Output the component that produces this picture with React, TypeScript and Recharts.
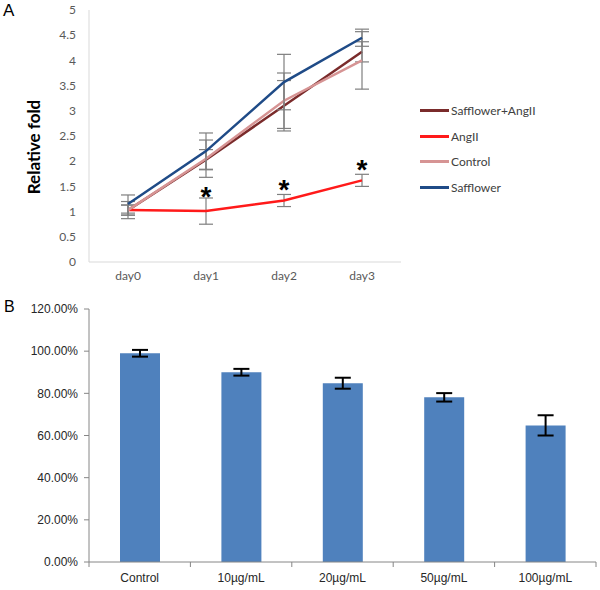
import { LineChart, Line, BarChart, Bar, XAxis, YAxis, ErrorBar } from 'recharts'

// panel A: relative fold over days
const days = ['day0', 'day1', 'day2', 'day3']
const saffAngII = [1.03, 2.03, 3.1, 4.17]
const saffAngIIErr = [0.1, 0.2, 0.5, 0.2]
const angII = [1.03, 1.01, 1.22, 1.62]
const angIIErr = [0.1, 0.26, 0.12, 0.12]
const control = [1.03, 2.05, 3.2, 4.0]
const controlErr = [0.17, 0.37, 0.55, 0.57]
const safflower = [1.15, 2.2, 3.57, 4.45]
const safflowerErr = [0.18, 0.36, 0.55, 0.17]
const starAt = [null, 1.33, 1.47, 1.86]
const foldTicks = [0, 0.5, 1, 1.5, 2, 2.5, 3, 3.5, 4, 4.5, 5]

// panel B: viability by dose
const doses = ['Control', '10µg/mL', '20µg/mL', '50µg/mL', '100µg/mL']
const viability = [99, 90, 84.8, 78.1, 64.8]
const viabilityErr = [1.6, 1.6, 2.6, 2, 4.8]
const pctTicks = [0, 20, 40, 60, 80, 100, 120]

const series = [
  { key: 'sa', name: 'Safflower+AngII', color: '#7a2b2b', values: saffAngII, err: saffAngIIErr },
  { key: 'ang', name: 'AngII', color: '#ff1a1a', values: angII, err: angIIErr },
  { key: 'ctl', name: 'Control', color: '#d69494', values: control, err: controlErr },
  { key: 'saf', name: 'Safflower', color: '#1f4b87', values: safflower, err: safflowerErr },
]

const lineData = days.map((day, i) => {
  const row: any = { day, star: starAt[i] }
  series.forEach(s => { row[s.key] = s.values[i]; row[s.key + 'Err'] = s.err[i] })
  return row
})

const barData = doses.map((dose, i) => ({ dose, v: viability[i], err: viabilityErr[i] }))

const calibri = 'Lato, "Open Sans", sans-serif'
const arial = '"Liberation Sans", Arial, sans-serif'

const Star = (p: any) => {
  if (p.cy == null || p.value == null) return <g key={p.index} />
  return <text key={p.index} x={p.cx} y={p.cy + 11} textAnchor="middle" fontSize={28} fontWeight="bold" fontFamily={arial} fill="#000">*</text>
}

const FoldLabel = ({ viewBox }: any) => {
  const cy = viewBox.y + viewBox.height / 2 + 11
  return <text x={33} y={cy} transform={`rotate(-90 33 ${cy})`} textAnchor="middle" dominantBaseline="central"
    fontSize={17} fontWeight="bold" fontFamily={calibri} fill="#000">Relative fold</text>
}

// category label plus Excel-style tick marks between categories
const DoseTick = (p: any) => {
  const half = p.payload.offset ?? p.width / p.visibleTicksCount / 2
  const c = p.payload.coordinate
  const last = p.index === p.visibleTicksCount - 1
  return (
    <g>
      <line x1={c - half} x2={c - half} y1={p.y} y2={p.y + 5} stroke="#868686" />
      {last && <line x1={c + half} x2={c + half} y1={p.y} y2={p.y + 5} stroke="#868686" />}
      <text x={c} y={p.y + 11} dy="0.71em" textAnchor="middle" fontSize={12} fill="#262626" fontFamily={arial}>{p.payload.value}</text>
    </g>
  )
}

export default function App() {
  return (
    <div style={{ position: 'absolute', left: 0, top: 0, width: 600, height: 590, background: '#fff' }}>
      <div style={{ position: 'absolute', left: 3, top: 1, fontSize: 17, fontFamily: arial }}>A</div>
      <div style={{ position: 'absolute', left: 0, top: 0 }}>
        <LineChart width={600} height={290} data={lineData} margin={{ top: 10, right: 199, bottom: 0, left: 0 }}>
          <XAxis dataKey="day" height={28} tickLine={false} axisLine={{ stroke: '#d9d9d9' }} tickMargin={3}
            padding={{ left: 39, right: 39 }} tick={{ fontSize: 12, fill: '#595959', fontFamily: calibri }} />
          <YAxis width={89} domain={[0, 5]} ticks={foldTicks} interval={0} tickLine={false} axisLine={{ stroke: '#d9d9d9' }}
            tickMargin={7} tick={{ fontSize: 12, fill: '#595959', fontFamily: calibri }} label={<FoldLabel />} />
          {series.map(s => (
            <Line key={s.key} dataKey={s.key} name={s.name} stroke={s.color} strokeWidth={2.5} dot={false}
              activeDot={false} isAnimationActive={false}>
              <ErrorBar dataKey={s.key + 'Err'} width={7} stroke="#7f7f7f" strokeWidth={1.2} />
            </Line>
          ))}
          <Line dataKey="star" stroke="none" dot={Star} activeDot={false} isAnimationActive={false} />
        </LineChart>
      </div>
      <div style={{ position: 'absolute', left: 420, top: 98, fontFamily: calibri, fontSize: 12, color: '#404040' }}>
        {series.map(s => (
          <div key={s.key} style={{ display: 'flex', alignItems: 'center', height: 25.5 }}>
            <span style={{ display: 'inline-block', width: 29, height: 3, background: s.color, marginRight: 2 }} />
            {s.name}
          </div>
        ))}
      </div>

      <div style={{ position: 'absolute', left: 4, top: 298, fontSize: 16, fontFamily: arial }}>B</div>
      <div style={{ position: 'absolute', left: 0, top: 300 }}>
        <BarChart width={600} height={290} data={barData} margin={{ top: 9, right: 4, bottom: 0, left: 0 }}>
          <XAxis dataKey="dose" height={28} tickLine={false} tickSize={0} tickMargin={0} interval={0}
            axisLine={{ stroke: '#868686' }} tick={<DoseTick />} />
          <YAxis width={89} domain={[0, 120]} ticks={pctTicks} interval={0} tickSize={5} tickMargin={6}
            tickFormatter={(v: number) => v.toFixed(2) + '%'} axisLine={{ stroke: '#868686' }} tickLine={{ stroke: '#868686' }}
            tick={{ fontSize: 12, fill: '#262626', fontFamily: arial }} />
          <Bar dataKey="v" fill="#4f81bd" barSize={40} isAnimationActive={false}>
            <ErrorBar dataKey="err" width={8} stroke="#000" strokeWidth={2} />
          </Bar>
        </BarChart>
      </div>
    </div>
  )
}
